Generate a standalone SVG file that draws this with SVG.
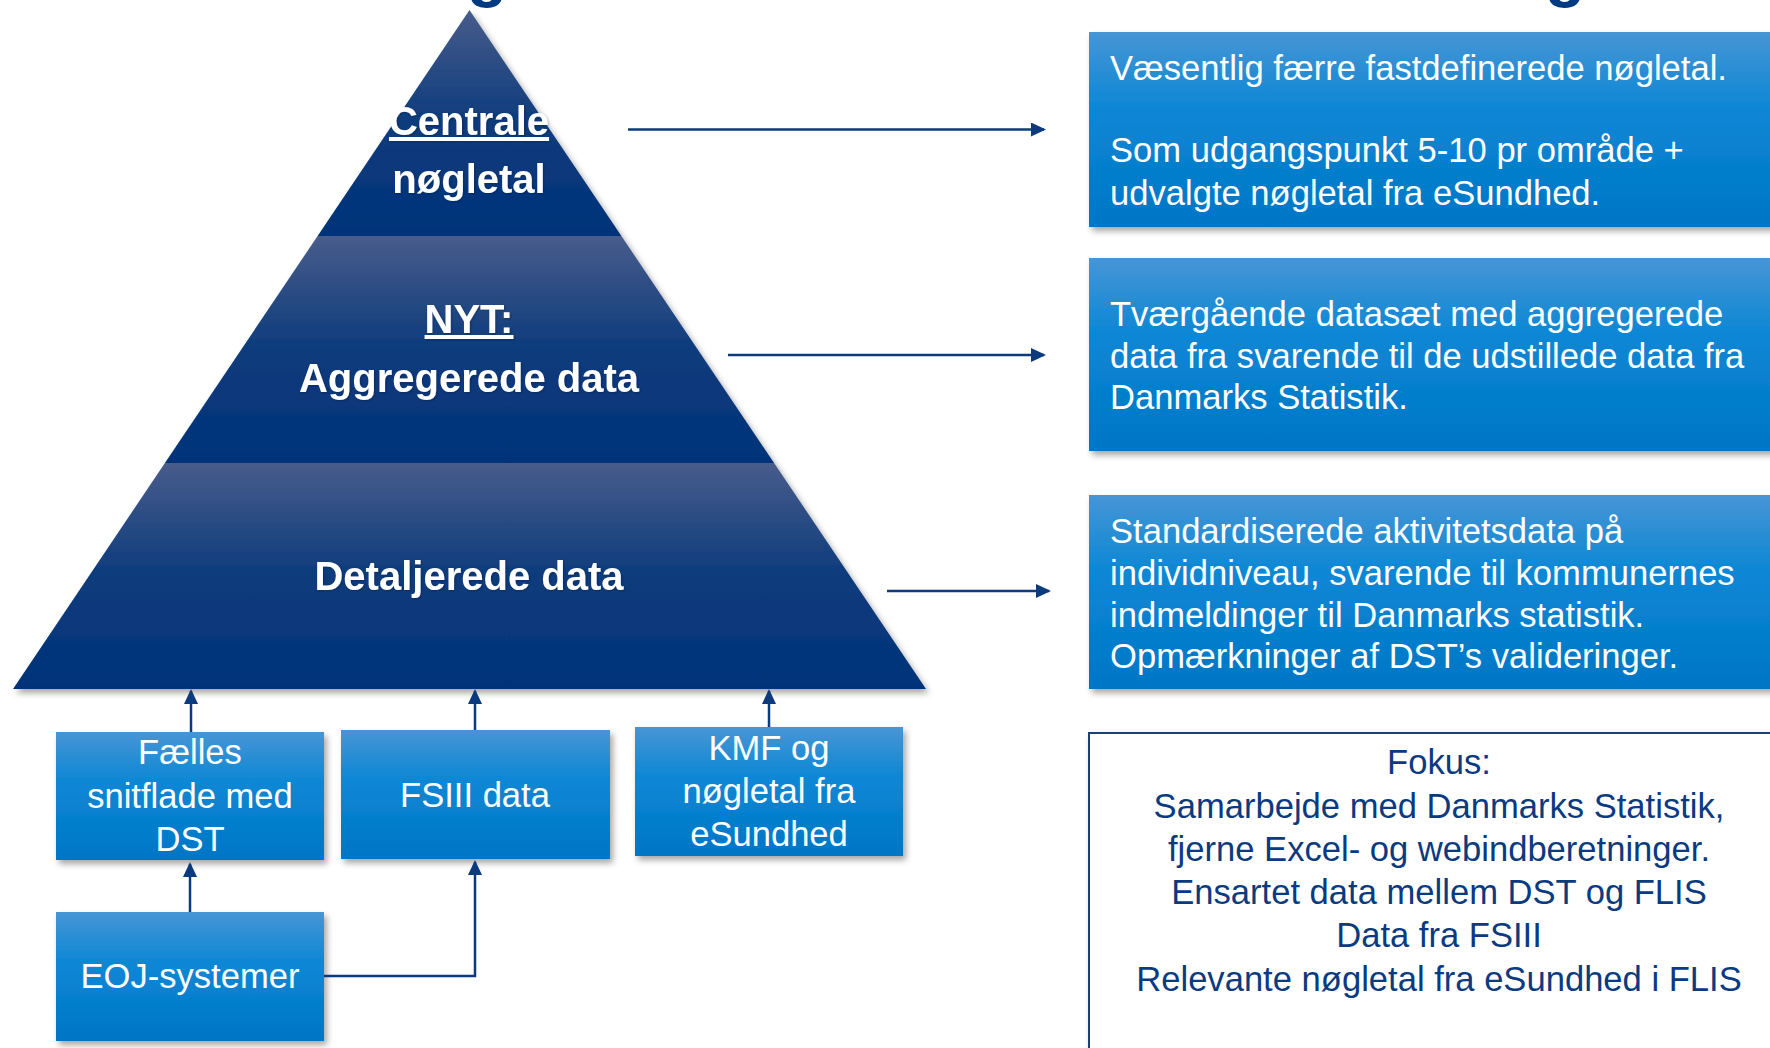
<svg xmlns="http://www.w3.org/2000/svg" width="1770" height="1048" viewBox="0 0 1770 1048">
  <defs>
    <style>
      .pyr { font-family: "Liberation Sans", Arial, sans-serif; font-weight: bold; font-size: 40px; fill: #ffffff; text-anchor: middle; }
      .box { font-family: "Liberation Sans", Arial, sans-serif; font-size: 34.6px; fill: #ffffff; }
      .mid { text-anchor: middle; }
      .fokus { font-family: "Liberation Sans", Arial, sans-serif; font-size: 34.6px; fill: #0a3a80; text-anchor: middle; }
      .conn { stroke: #0b3a7e; stroke-width: 2.5; fill: none; }
      .title { font-family: "Liberation Sans", Arial, sans-serif; font-weight: bold; font-size: 66px; fill: #003a80; }
    </style>
    <linearGradient id="band" x1="0" y1="0" x2="0" y2="1">
      <stop offset="0" stop-color="#485c8b"/>
      <stop offset="0.5" stop-color="#0c3b7c"/>
      <stop offset="1" stop-color="#02337a"/>
    </linearGradient>
    <linearGradient id="blue" x1="0" y1="0" x2="0" y2="1">
      <stop offset="0" stop-color="#4795d5"/>
      <stop offset="0.4" stop-color="#0b87d5"/>
      <stop offset="1" stop-color="#0076c5"/>
    </linearGradient>
    <filter id="sh" x="-10%" y="-10%" width="125%" height="130%">
      <feDropShadow dx="3" dy="4" stdDeviation="3" flood-color="#000" flood-opacity="0.35"/>
    </filter>
    <filter id="tsh" x="-10%" y="-20%" width="120%" height="140%">
      <feDropShadow dx="1" dy="1" stdDeviation="1" flood-color="#000" flood-opacity="0.25"/>
    </filter>
    <marker id="ah" viewBox="0 0 15 14" refX="13" refY="7" markerWidth="15" markerHeight="14" markerUnits="userSpaceOnUse" orient="auto">
      <path d="M0,0 L15,7 L0,14 z" fill="#0b3a7e"/>
    </marker>
  </defs>

  <!-- title fragments (cut off at top, as in the reference) -->
  <text class="title" x="467" y="-6">g</text>
  <text class="title" x="1545" y="-6">g</text>

  <!-- pyramid -->
  <g id="pyramid" filter="url(#sh)">
    <g id="level-top">
      <polygon points="469.5,10 621.4,236 317.6,236" fill="url(#band)"/>
    </g>
    <g id="level-mid">
      <polygon points="317.6,236 621.4,236 774.1,463 164.9,463" fill="url(#band)"/>
    </g>
    <g id="level-bottom">
      <polygon points="164.9,463 774.1,463 926,689 13,689" fill="url(#band)"/>
    </g>
  </g>
  <g id="pyramid-labels" filter="url(#tsh)">
    <text class="pyr" x="469" y="135" text-decoration="underline">Centrale</text>
    <text class="pyr" x="469" y="193">nøgletal</text>
    <text class="pyr" x="469" y="333" text-decoration="underline">NYT:</text>
    <text class="pyr" x="469" y="391.5">Aggregerede data</text>
    <text class="pyr" x="469" y="589.5">Detaljerede data</text>
  </g>

  <!-- right description boxes -->
  <g id="desc-top">
    <rect x="1089" y="32" width="700" height="195" fill="url(#blue)" filter="url(#sh)"/>
    <text class="box" x="1110" y="80">Væsentlig færre fastdefinerede nøgletal.</text>
    <text class="box" x="1110" y="162">Som udgangspunkt 5-10 pr område +</text>
    <text class="box" x="1110" y="205">udvalgte nøgletal fra eSundhed.</text>
  </g>
  <g id="desc-mid">
    <rect x="1089" y="258" width="700" height="193" fill="url(#blue)" filter="url(#sh)"/>
    <text class="box" x="1110" y="326">Tværgående datasæt med aggregerede</text>
    <text class="box" x="1110" y="368">data fra svarende til de udstillede data fra</text>
    <text class="box" x="1110" y="409">Danmarks Statistik.</text>
  </g>
  <g id="desc-bottom">
    <rect x="1089" y="495" width="700" height="194" fill="url(#blue)" filter="url(#sh)"/>
    <text class="box" x="1110" y="543">Standardiserede aktivitetsdata på</text>
    <text class="box" x="1110" y="585">individniveau, svarende til kommunernes</text>
    <text class="box" x="1110" y="627">indmeldinger til Danmarks statistik.</text>
    <text class="box" x="1110" y="668">Opmærkninger af DST’s valideringer.</text>
  </g>
  <g id="fokus">
    <rect x="1089" y="733" width="720" height="340" fill="#ffffff" stroke="#1c3f78" stroke-width="2" filter="url(#sh)"/>
    <text class="fokus" x="1439" y="774">Fokus:</text>
    <text class="fokus" x="1439" y="818">Samarbejde med Danmarks Statistik,</text>
    <text class="fokus" x="1439" y="861">fjerne Excel- og webindberetninger.</text>
    <text class="fokus" x="1439" y="904">Ensartet data mellem DST og FLIS</text>
    <text class="fokus" x="1439" y="947">Data fra FSIII</text>
    <text class="fokus" x="1439" y="991">Relevante nøgletal fra eSundhed i FLIS</text>
  </g>

  <!-- source boxes -->
  <g id="faelles">
    <rect x="56" y="732" width="268" height="128" fill="url(#blue)" filter="url(#sh)"/>
    <text class="box mid" x="190" y="764">Fælles</text>
    <text class="box mid" x="190" y="808">snitflade med</text>
    <text class="box mid" x="190" y="851">DST</text>
  </g>
  <g id="fsiii">
    <rect x="341" y="730" width="269" height="129" fill="url(#blue)" filter="url(#sh)"/>
    <text class="box mid" x="475" y="807">FSIII data</text>
  </g>
  <g id="kmf">
    <rect x="635" y="727" width="268" height="129" fill="url(#blue)" filter="url(#sh)"/>
    <text class="box mid" x="769" y="760">KMF og</text>
    <text class="box mid" x="769" y="803">nøgletal fra</text>
    <text class="box mid" x="769" y="846">eSundhed</text>
  </g>
  <g id="eoj">
    <rect x="56" y="912" width="268" height="129" fill="url(#blue)" filter="url(#sh)"/>
    <text class="box mid" x="190" y="988">EOJ-systemer</text>
  </g>

  <!-- connectors -->
  <g id="connectors">
    <line class="conn" x1="628" y1="129.5" x2="1044" y2="129.5" marker-end="url(#ah)"/>
    <line class="conn" x1="728" y1="355" x2="1044" y2="355" marker-end="url(#ah)"/>
    <line class="conn" x1="887" y1="591" x2="1049" y2="591" marker-end="url(#ah)"/>
    <line class="conn" x1="191" y1="732" x2="191" y2="691" marker-end="url(#ah)"/>
    <line class="conn" x1="475" y1="730" x2="475" y2="691" marker-end="url(#ah)"/>
    <line class="conn" x1="769" y1="727" x2="769" y2="691" marker-end="url(#ah)"/>
    <line class="conn" x1="190" y1="912" x2="190" y2="864" marker-end="url(#ah)"/>
    <polyline class="conn" points="324,976 475,976 475,862" marker-end="url(#ah)"/>
  </g>
</svg>
